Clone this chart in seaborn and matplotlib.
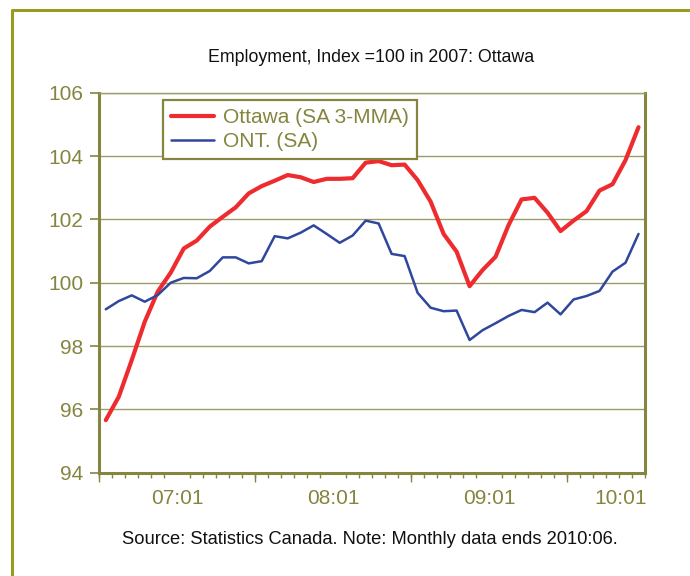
import matplotlib
matplotlib.use("Agg")
import matplotlib.pyplot as plt
from matplotlib.lines import Line2D
import seaborn as sns
import pandas as pd
import numpy as np

# ---- data: monthly, 2007:01 .. 2010:06 ----
months = [f"{y:02d}:{m:02d}" for y in range(7, 11) for m in range(1, 13)][:42]
ottawa = [95.66, 96.40, 97.56, 98.77, 99.72, 100.32, 101.08, 101.33, 101.77, 102.08,
          102.38, 102.82, 103.05, 103.22, 103.40, 103.33, 103.18, 103.28, 103.28, 103.30,
          103.79, 103.84, 103.71, 103.73, 103.24, 102.56, 101.54, 100.98, 99.89, 100.40,
          100.82, 101.82, 102.63, 102.68, 102.21, 101.63, 101.96, 102.26, 102.91, 103.11,
          103.87, 104.91]
ontario = [99.16, 99.42, 99.60, 99.40, 99.61, 100.00, 100.15, 100.14, 100.37, 100.80,
           100.80, 100.61, 100.68, 101.47, 101.40, 101.58, 101.81, 101.54, 101.26, 101.49,
           101.96, 101.87, 100.91, 100.84, 99.68, 99.21, 99.10, 99.12, 98.19, 98.50,
           98.72, 98.95, 99.14, 99.07, 99.37, 99.00, 99.47, 99.58, 99.74, 100.35,
           100.63, 101.54]
series_names = ["Ottawa (SA 3-MMA)", "ONT. (SA)"]
tick_labels = ["07:01", "08:01", "09:01", "10:01"]
y_ticks = [94, 96, 98, 100, 102, 104, 106]

title = "Employment, Index =100 in 2007: Ottawa"
source = "Source: Statistics Canada. Note: Monthly data ends 2010:06."

# ---- styling ----
sns.set_theme(style="white")
plt.rcParams["font.family"] = ["Liberation Sans", "DejaVu Sans"]

OLIVE = "#858540"
FRAME = "#9a9a1e"
GRID = "#9c9c68"
RED = "#ee2b2e"
BLUE = "#2f479c"

W, H = 690, 576
fig = plt.figure(figsize=(W / 100, H / 100), dpi=100)
ax_left, ax_right, ax_top, ax_bottom = 99.3, 645.0, 92.7, 472.7
ax = fig.add_axes([ax_left / W, 1 - ax_bottom / H,
                   (ax_right - ax_left) / W, (ax_bottom - ax_top) / H])

df = pd.DataFrame({"idx": np.arange(len(months)), "month": months,
                   series_names[0]: ottawa, series_names[1]: ontario})

sns.lineplot(data=df, x="idx", y=series_names[0], ax=ax, color=RED, linewidth=3.0)
sns.lineplot(data=df, x="idx", y=series_names[1], ax=ax, color=BLUE, linewidth=1.8)

n = len(months)
ax.set_xlim(-0.5, n - 0.5)
ax.set_ylim(94, 106)
ax.set_xlabel("")
ax.set_ylabel("")

# y axis
ax.set_yticks(y_ticks)
ax.set_yticklabels([str(v) for v in y_ticks])
ax.yaxis.grid(True, color=GRID, linewidth=1.0)
ax.set_axisbelow(True)
ax.tick_params(axis="y", which="major", left=True, length=6.5, width=1.2,
               color=OLIVE, labelcolor=OLIVE, labelsize=15, pad=5)

# x axis: labels centred on each year group, boundary tick marks
label_pos = [5.5, 17.5, 29.5, 39.6]
ax.set_xticks(label_pos)
ax.set_xticklabels(tick_labels)
ax.set_xticks(np.arange(-0.5, n, 1.0), minor=True)
ax.tick_params(axis="x", which="major", bottom=True, length=0,
               labelcolor=OLIVE, labelsize=15, pad=12)
ax.tick_params(axis="x", which="minor", bottom=True, length=3.5, width=1.0,
               color=OLIVE)
sec = ax.secondary_xaxis("bottom")
sec.set_xticks([-0.5, 11.5, 23.5, 35.5])
sec.set_xticklabels([])
sec.tick_params(axis="x", length=6.5, width=1.0, color=OLIVE)
sec.spines["bottom"].set_visible(False)

for side in ["left", "bottom", "right"]:
    ax.spines[side].set_visible(True)
    ax.spines[side].set_color(OLIVE)
    ax.spines[side].set_linewidth(2.2)
ax.spines["top"].set_visible(True)
ax.spines["top"].set_color(GRID)
ax.spines["top"].set_linewidth(1.0)

# legend
handles = [Line2D([], [], color=RED, linewidth=3.0),
           Line2D([], [], color=BLUE, linewidth=1.8)]
leg = ax.legend(handles, series_names, loc="upper left",
                bbox_to_anchor=(0.116, 0.982), borderaxespad=0,
                fontsize=15, frameon=True, fancybox=False,
                handlelength=2.05, handletextpad=0.45, labelspacing=0.25,
                borderpad=0.4)
leg.get_frame().set_edgecolor(OLIVE)
leg.get_frame().set_linewidth(1.6)
leg.get_frame().set_facecolor("white")
leg.get_frame().set_alpha(1.0)
for t in leg.get_texts():
    t.set_color(OLIVE)

# titles
fig.text(371.5 / W, 1 - 57 / H, title, ha="center", va="center",
         fontsize=12.8, color="#111111")
fig.text(370 / W, 1 - 540 / H, source, ha="center", va="center",
         fontsize=13.2, color="#111111")

# outer frame (left and top edges visible)
fig.add_artist(Line2D([12 / W, 12 / W, 1.02], [-0.05, 1 - 10 / H, 1 - 10 / H],
                      transform=fig.transFigure, color=FRAME, linewidth=2.2))

fig.savefig("out.png", dpi=100, facecolor="white")
